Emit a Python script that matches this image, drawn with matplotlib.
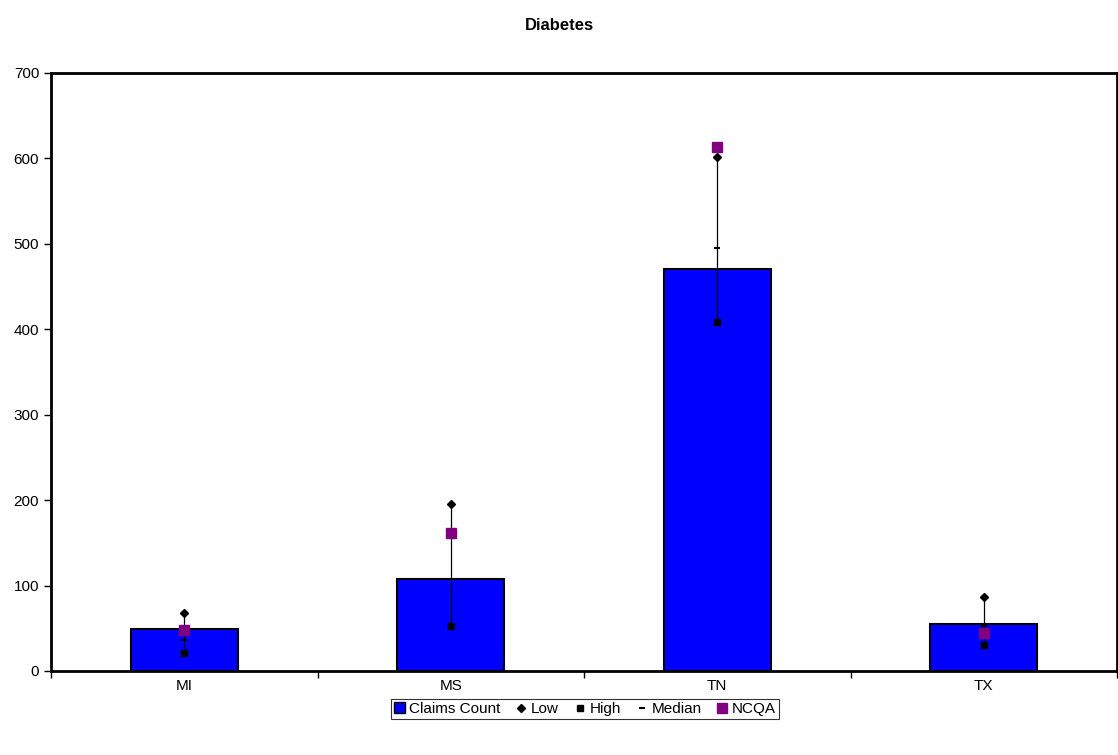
import numpy as np
import matplotlib
matplotlib.use("Agg")
from matplotlib import pyplot as plt
from matplotlib.lines import Line2D
from matplotlib.patches import Patch

plt.rcParams['font.family'] = ['Liberation Sans', 'DejaVu Sans']

states = ['MI', 'MS', 'TN', 'TX']
claims = [49, 108, 470, 55]
low = [68, 195, 602, 87]
high = [21, 53, 409, 30]
median = [36, 108, 495, 53]
ncqa = [48, 161, 613, 44]

x = np.arange(len(states))

fig = plt.figure(figsize=(11.18, 7.55), dpi=100)
ax = fig.add_axes([51/1118, 1 - 671/755, 1066/1118, 598/755])

ax.bar(x, claims, width=0.4, color='#0000FF', edgecolor='black', linewidth=1.5, zorder=2)
# line from high to low
ax.vlines(x, high, low, color='black', linewidth=0.9, zorder=3)
ax.plot(x, low, linestyle='none', marker='D', markersize=4, color='black', zorder=4)
ax.plot(x, high, linestyle='none', marker='s', markersize=5, color='black', zorder=4)
ax.plot(x, median, linestyle='none', marker='_', markersize=5, markeredgewidth=1.5,
        color='black', zorder=4)
ax.plot(x, ncqa, linestyle='none', marker='s', markersize=7, color='#800080', zorder=5)

ax.set_xlim(-0.5, 3.5)
ax.set_ylim(0, 700)
ax.set_yticks(range(0, 701, 100))
ax.set_xticks(x)
ax.set_xticklabels(states)
ax.set_xticks(np.arange(-0.5, 3.6, 1), minor=True)
ax.tick_params(axis='x', which='major', length=0, pad=6, labelsize=11)
ax.tick_params(axis='x', which='minor', length=5, direction='out', width=1)
ax.tick_params(axis='y', length=5, direction='out', width=1, labelsize=11)
for s in ax.spines.values():
    s.set_linewidth(2)

fig.suptitle('Diabetes', fontsize=12, fontweight='bold', y=1 - 25/755, va='center')

handles = [
    Patch(facecolor='#0000FF', edgecolor='black', linewidth=1),
    Line2D([], [], linestyle='none', marker='D', markersize=4, color='black'),
    Line2D([], [], linestyle='none', marker='s', markersize=5, color='black'),
    Line2D([], [], linestyle='none', marker='_', markersize=5, markeredgewidth=1.5, color='black'),
    Line2D([], [], linestyle='none', marker='s', markersize=7, color='#800080'),
]
labels = ['Claims Count', 'Low', 'High', 'Median', 'NCQA']
leg = ax.legend(handles, labels, loc='center', bbox_to_anchor=(585/1118, 1 - 709/755),
                bbox_transform=fig.transFigure, ncol=5, frameon=True, fancybox=False,
                edgecolor='black', fontsize=11, handlelength=0.7, handleheight=0.7,
                handletextpad=0.3, columnspacing=1.0, borderpad=0.2, borderaxespad=0)
leg.get_frame().set_linewidth(0.8)

fig.savefig('out.png', dpi=100)
